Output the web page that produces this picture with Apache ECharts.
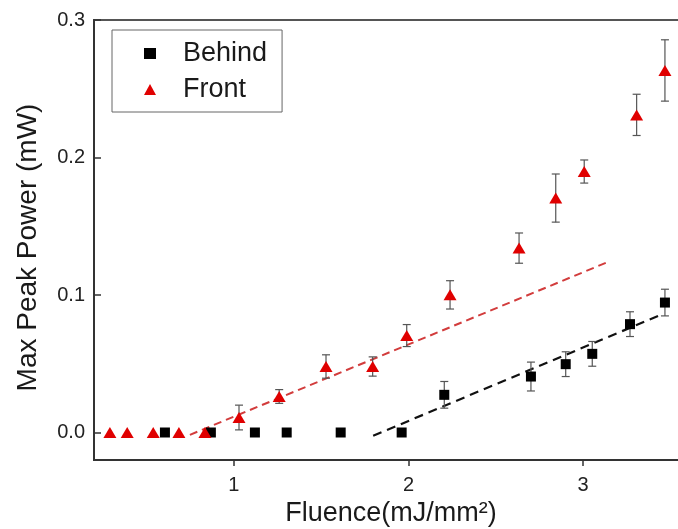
<!DOCTYPE html>
<html>
<head>
<meta charset="utf-8">
<script src="https://cdn.jsdelivr.net/npm/echarts@6/dist/echarts.min.js"></script>
<style>
  html, body { margin: 0; padding: 0; background: #fff; }
  #chart { width: 678px; height: 529px; }
</style>
</head>
<body>
<div id="chart"></div>
<script>
// Behind: fluence (mJ/mm²), max peak power (mW) and its error
const behindX   = [0.606, 0.869, 1.121, 1.303, 1.612, 1.961, 2.205, 2.701, 2.900, 3.052, 3.268, 3.468];
const behindY   = [0, 0, 0, 0, 0, 0, 0.0274, 0.0407, 0.0497, 0.0572, 0.0788, 0.0945];
const behindErr = [0, 0, 0, 0, 0, 0, 0.0097, 0.0105, 0.0090, 0.0090, 0.0090, 0.0097];

// Front
const frontX   = [0.291, 0.390, 0.539, 0.686, 0.835, 1.030, 1.260, 1.528, 1.795, 1.990, 2.238, 2.633, 2.843, 3.006, 3.306, 3.468];
const frontY   = [0, 0, 0, 0, 0, 0.0109, 0.0262, 0.0480, 0.0480, 0.0705, 0.1001, 0.1341, 0.1705, 0.1898, 0.2310, 0.2633];
const frontErr = [0, 0, 0, 0, 0, 0.0090, 0.0050, 0.0085, 0.0070, 0.0080, 0.0103, 0.0110, 0.0175, 0.0084, 0.0150, 0.0223];

// Linear fits (end points)
const fitFrontX  = [0.749, 3.130];
const fitFrontY  = [-0.0017, 0.1234];
const fitBehindX = [1.798, 3.443];
const fitBehindY = [-0.0024, 0.0855];

// Tick labels
const xTicks = [1, 2, 3];
const yTicks = [0, 0.1, 0.2, 0.3];

const FONT = '"Liberation Sans", Arial, Helvetica, sans-serif';

const zip = (xs, ys) => xs.map((x, i) => [x, ys[i]]);
const zip3 = (xs, ys, es) => xs.map((x, i) => [x, ys[i], es[i]]);

function errorBars(params, api) {
  const x = api.value(0), y = api.value(1), e = api.value(2);
  if (!e) return null;
  const top = api.coord([x, y + e]);
  const bot = api.coord([x, y - e]);
  const cap = 4;
  const style = { stroke: '#555', lineWidth: 1.2 };
  return {
    type: 'group',
    children: [
      { type: 'line', shape: { x1: top[0], y1: top[1], x2: bot[0], y2: bot[1] }, style },
      { type: 'line', shape: { x1: top[0] - cap, y1: top[1], x2: top[0] + cap, y2: top[1] }, style },
      { type: 'line', shape: { x1: bot[0] - cap, y1: bot[1], x2: bot[0] + cap, y2: bot[1] }, style }
    ]
  };
}

const chart = echarts.init(document.getElementById('chart'), null, { renderer: 'canvas' });

chart.setOption({
  animation: false,
  backgroundColor: '#fff',
  textStyle: { fontFamily: FONT },
  grid: {
    left: 94, right: -10, top: 20, bottom: 69,
    show: true, borderColor: '#555', borderWidth: 2,
    outerBoundsMode: 'none'
  },
  legend: {
    left: 112, top: 30,
    orient: 'vertical',
    backgroundColor: '#fff',
    borderColor: '#666', borderWidth: 1,
    padding: [10, 15, 9, 32],
    itemGap: 9,
    itemWidth: 12, itemHeight: 11,
    textStyle: { fontFamily: FONT, fontSize: 27, lineHeight: 26, color: '#1a1a1a', padding: [0, 0, 0, 22] },
    data: [
      { name: 'Behind', icon: 'rect' },
      { name: 'Front', icon: 'triangle' }
    ]
  },
  xAxis: {
    type: 'value',
    min: 0.2, max: 3.6,
    name: 'Fluence(mJ/mm²)',
    nameLocation: 'middle',
    nameGap: 40,
    nameTextStyle: { fontFamily: FONT, fontSize: 27, color: '#1a1a1a' },
    axisLine: { show: true, onZero: false, lineStyle: { color: '#333', width: 2 } },
    axisTick: { show: true, inside: false, length: 6, customValues: xTicks, lineStyle: { color: '#333', width: 1.5 } },
    axisLabel: { customValues: xTicks, margin: 15, fontFamily: FONT, fontSize: 20, color: '#222', formatter: v => String(v) },
    splitLine: { show: false }
  },
  yAxis: {
    type: 'value',
    min: -0.02, max: 0.3,
    name: 'Max Peak Power (mW)',
    nameLocation: 'middle',
    nameGap: 52,
    nameTextStyle: { fontFamily: FONT, fontSize: 28, color: '#1a1a1a', padding: [0, 15, 0, 0] },
    axisLine: { show: true, onZero: false, lineStyle: { color: '#333', width: 2 } },
    axisTick: { show: true, inside: true, length: 7, customValues: yTicks, lineStyle: { color: '#333', width: 1.5 } },
    axisLabel: { customValues: yTicks, margin: 9, fontFamily: FONT, fontSize: 20, color: '#222', formatter: v => v.toFixed(1) },
    splitLine: { show: false }
  },
  series: [
    {
      name: 'Front fit', type: 'line', data: zip(fitFrontX, fitFrontY),
      symbol: 'none', z: 1, silent: true,
      lineStyle: { color: '#d23c3c', width: 2, type: [8, 5] }
    },
    {
      name: 'Behind fit', type: 'line', data: zip(fitBehindX, fitBehindY),
      symbol: 'none', z: 1, silent: true,
      lineStyle: { color: '#111', width: 2.2, type: [9, 6] }
    },
    {
      name: 'Behind error', type: 'custom', renderItem: errorBars,
      data: zip3(behindX, behindY, behindErr), z: 2, silent: true
    },
    {
      name: 'Front error', type: 'custom', renderItem: errorBars,
      data: zip3(frontX, frontY, frontErr), z: 2, silent: true
    },
    {
      name: 'Behind', type: 'scatter', data: zip(behindX, behindY),
      symbol: 'rect', symbolSize: [10, 10], z: 3,
      itemStyle: { color: '#000', opacity: 1 }
    },
    {
      name: 'Front', type: 'scatter', data: zip(frontX, frontY),
      symbol: 'triangle', symbolSize: [13, 11], z: 4,
      itemStyle: { color: '#e00000', opacity: 1 }
    }
  ]
});
</script>
</body>
</html>
